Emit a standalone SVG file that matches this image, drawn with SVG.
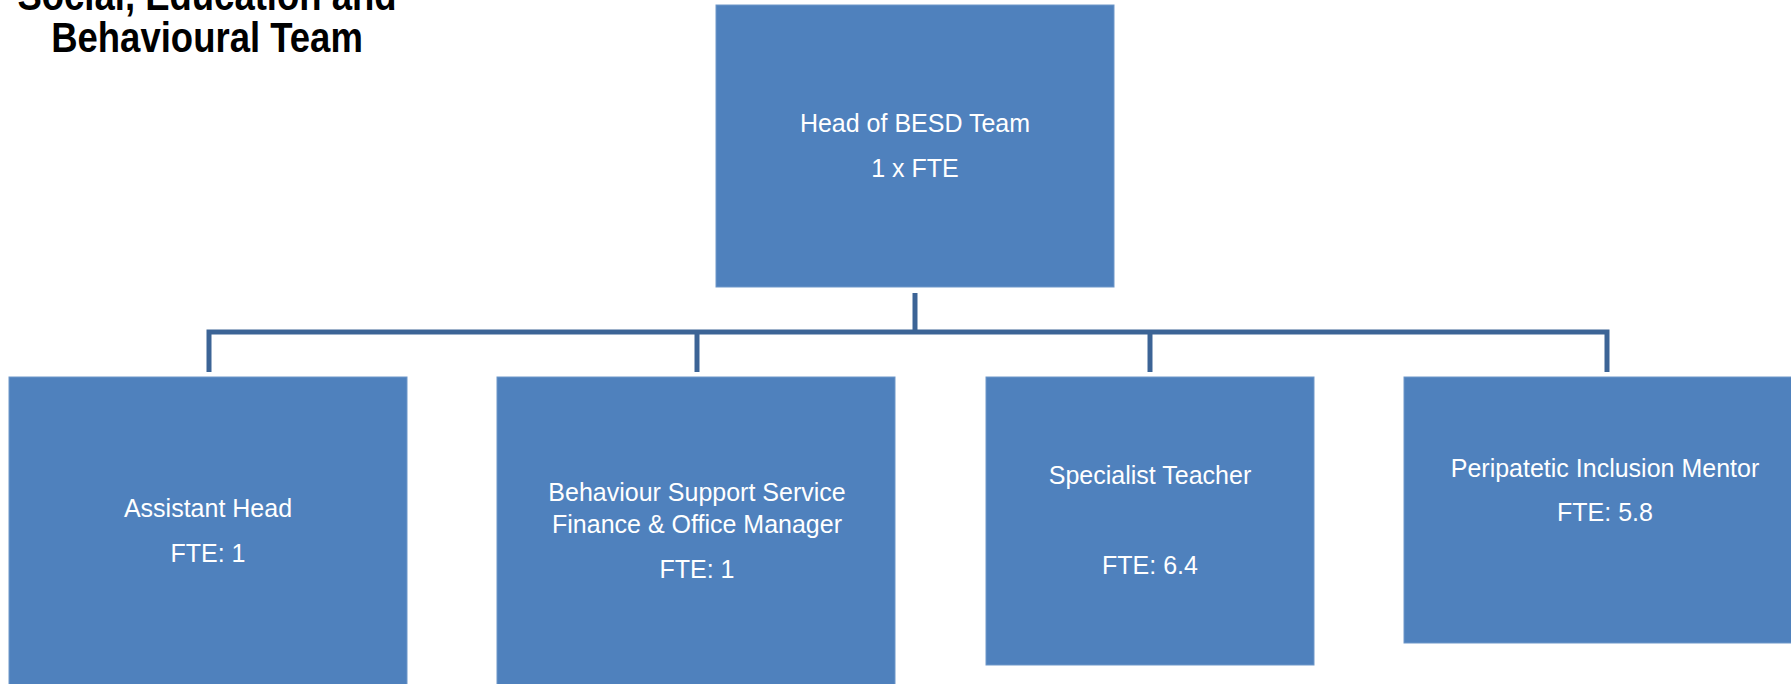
<svg xmlns="http://www.w3.org/2000/svg" width="1791" height="684" viewBox="0 0 1791 684">
  <style>
    .box { fill: #4F81BD; stroke: #6E97C9; stroke-width: 1; }
    .lbl { font-family: "Liberation Sans", Arial, sans-serif; font-size: 25px; fill: #FFFFFF; text-anchor: middle; }
    .title { font-family: "Liberation Sans", Arial, sans-serif; font-size: 36.5px; font-weight: bold; fill: #000000; text-anchor: middle; }
    .conn { fill: none; stroke: #3C6496; stroke-width: 5; stroke-linecap: butt; stroke-linejoin: miter; }
  </style>
  <rect x="0" y="0" width="1791" height="684" fill="#FFFFFF"/>
  <g id="title" transform="translate(207,0) scale(1,1.15)">
    <text class="title" x="0" y="8.5">Social, Education and</text>
    <text class="title" x="0" y="45.5">Behavioural Team</text>
  </g>
  <g id="connectors">
    <path class="conn" d="M915 293 V332"/>
    <path class="conn" d="M209 372 V332 H1607 V372"/>
    <path class="conn" d="M697 332 V372"/>
    <path class="conn" d="M1150 332 V372"/>
  </g>
  <g id="head">
    <rect class="box" x="716" y="5" width="398" height="282"/>
    <text class="lbl" x="915" y="132">Head of BESD Team</text>
    <text class="lbl" x="915" y="177">1 x FTE</text>
  </g>
  <g id="assistant-head">
    <rect class="box" x="9" y="377" width="398" height="320"/>
    <text class="lbl" x="208" y="517">Assistant Head</text>
    <text class="lbl" x="208" y="562">FTE: 1</text>
  </g>
  <g id="finance-manager">
    <rect class="box" x="497" y="377" width="398" height="320"/>
    <text class="lbl" x="697" y="501">Behaviour Support Service</text>
    <text class="lbl" x="697" y="533">Finance &amp; Office Manager</text>
    <text class="lbl" x="697" y="578">FTE: 1</text>
  </g>
  <g id="specialist-teacher">
    <rect class="box" x="986" y="377" width="328" height="288"/>
    <text class="lbl" x="1150" y="484">Specialist Teacher</text>
    <text class="lbl" x="1150" y="574">FTE: 6.4</text>
  </g>
  <g id="inclusion-mentor">
    <rect class="box" x="1404" y="377" width="400" height="266"/>
    <text class="lbl" x="1605" y="477">Peripatetic Inclusion Mentor</text>
    <text class="lbl" x="1605" y="521">FTE: 5.8</text>
  </g>
</svg>
